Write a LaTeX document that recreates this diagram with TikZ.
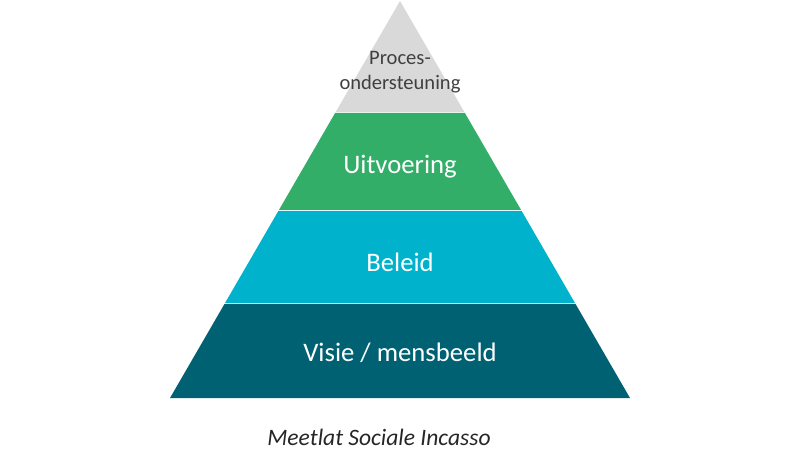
\documentclass[tikz,border=0pt]{standalone}
\usepackage{fontspec}
\setmainfont{Carlito}
\usetikzlibrary{calc}

\definecolor{procgrey}{RGB}{217,217,217}
\definecolor{uitgreen}{RGB}{50,174,104}
\definecolor{beleidcyan}{RGB}{0,178,204}
\definecolor{visieteal}{RGB}{0,97,115}
\definecolor{labelgrey}{RGB}{64,64,64}

\tikzset{
  bandlabel/.style = {text = white, font = \fontsize{15.2}{18}\selectfont},
}

\begin{document}
\begin{tikzpicture}[x = 0.02cm, y = -0.02cm]
      \useasboundingbox (0,0) rectangle (800,465);
      \coordinate (apex) at (400,1);
      \coordinate (baseleft) at (170,398);
      \coordinate (baseright) at (630,398);
      % bands from the top down
      \foreach \ya/\yb/\col in {1/112/procgrey, 113/210/uitgreen,
                                211/303/beleidcyan, 304/398/visieteal}{
        \fill[\col]
          ($(apex)!{(\ya-1)/397}!(baseleft)$) --
          ($(apex)!{(\yb-1)/397}!(baseleft)$) --
          ($(apex)!{(\yb-1)/397}!(baseright)$) --
          ($(apex)!{(\ya-1)/397}!(baseright)$) -- cycle;
      }
      \node[text = labelgrey, align = center,
            font = \fontsize{11.7}{14}\selectfont] (proces) at (400,72)
            {Proces-\\ondersteuning};
      \node[bandlabel] (uitvoering) at (400,167) {Uitvoering};
      \node[bandlabel] (beleid) at (400,262) {Beleid};
      \node[bandlabel] (visie) at (400,353) {Visie / mensbeeld};
      \node[text = black!85, font = \fontsize{13.4}{16}\itshape] (meetlat)
            at (379,437) {Meetlat Sociale Incasso};
    \end{tikzpicture}
\end{document}
